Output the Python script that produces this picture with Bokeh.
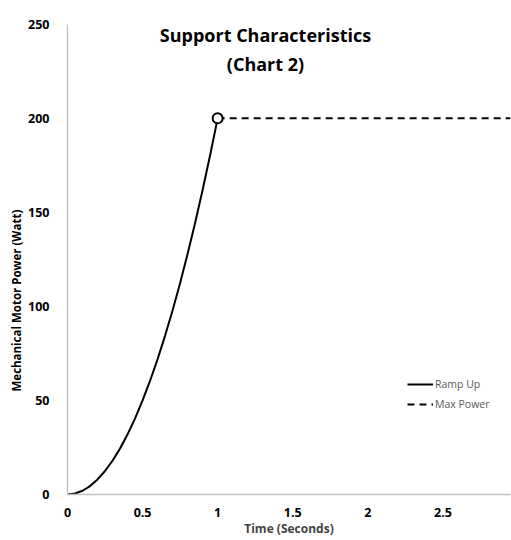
from bokeh.plotting import figure
from bokeh.models import (Range1d, FixedTicker, Label, Legend, LegendItem, Title)
from bokeh.embed import file_html
from bokeh.resources import INLINE

# ---- data ----
ramp_t = [0.0, 0.05, 0.1, 0.15, 0.2, 0.25, 0.3, 0.35, 0.4, 0.45, 0.5,
          0.55, 0.6, 0.65, 0.7, 0.75, 0.8, 0.85, 0.9, 0.95, 1.0]
ramp_p = [0, 0.5, 2, 4.5, 8, 12.5, 18, 24.5, 32, 40.5, 50,
          60.5, 72, 84.5, 98, 112.5, 128, 144.5, 162, 180.5, 200]
max_t = [1.0, 2.95]
max_p = [200, 200]
peak_t = [1.0]
peak_p = [200]
x_ticks = [0, 0.5, 1, 1.5, 2, 2.5]
x_tick_labels = ["0", "0.5", "1", "1.5", "2", "2.5"]
y_ticks = [0, 50, 100, 150, 200, 250]

title_lines = ["Support Characteristics", "(Chart 2)"]
x_label = "Time (Seconds)"
y_label = "Mechanical  Motor  Power (Watt)"

FONT = "Open Sans"

p = figure(width=511, height=540, output_backend="svg", toolbar_location=None,
           x_range=Range1d(0, 2.95), y_range=Range1d(0, 260),
           min_border_left=67, min_border_top=5, min_border_right=1,
           min_border_bottom=46)
p.outline_line_color = None
p.xgrid.visible = False
p.ygrid.visible = False

for ax in (p.xaxis[0], p.yaxis[0]):
    ax.axis_line_color = "#bfbfbf"
    ax.axis_line_width = 1.3
    ax.major_tick_line_color = None
    ax.minor_tick_line_color = None
    ax.major_label_text_font = FONT
    ax.major_label_text_font_style = "bold"
    ax.major_label_text_font_size = "12.5px"
    ax.major_label_text_color = "#000000"

p.xaxis.ticker = FixedTicker(ticks=x_ticks)
p.xaxis.major_label_overrides = {t: s for t, s in zip(x_ticks, x_tick_labels)}
p.xaxis.major_label_standoff = 7
p.xaxis.axis_label = x_label
p.xaxis.axis_label_text_font = FONT
p.xaxis.axis_label_text_font_style = "bold"
p.xaxis.axis_label_text_font_size = "12px"
p.xaxis.axis_label_standoff = 0

p.yaxis.ticker = FixedTicker(ticks=y_ticks)
p.yaxis.bounds = (0, 250)
p.yaxis.major_label_standoff = 12

ramp = p.line(ramp_t, ramp_p, line_color="black", line_width=2)
maxp = p.line(max_t, max_p, line_color="black", line_width=2, line_dash="7 5")
p.scatter(peak_t, peak_p, marker="circle", size=10, fill_color="white",
          line_color="black", line_width=2)

legend = Legend(items=[LegendItem(label="Ramp Up", renderers=[ramp]),
                       LegendItem(label="Max Power", renderers=[maxp])],
                location=(340, 80), padding=0, margin=0, spacing=0,
                glyph_width=26, glyph_height=20, label_height=20,
                label_standoff=2, border_line_color=None,
                background_fill_alpha=0,
                label_text_font=FONT, label_text_font_size="10.5px",
                label_text_color="#595959")
p.add_layout(legend)

for i, (t, yb) in enumerate(zip(title_lines, [460, 431])):
    p.add_layout(Label(x=198, y=yb, x_units="screen", y_units="screen",
                       text=t, text_align="center", text_baseline="alphabetic",
                       text_font=FONT, text_font_style="bold",
                       text_font_size="18px", text_color="#000000"))

p.add_layout(Title(text=y_label, align="left", offset=103, standoff=4,
                   text_font=FONT, text_font_style="bold",
                   text_font_size="11.5px", text_color="#000000"), "left")

open("out.html", "w").write(file_html(p, INLINE))
